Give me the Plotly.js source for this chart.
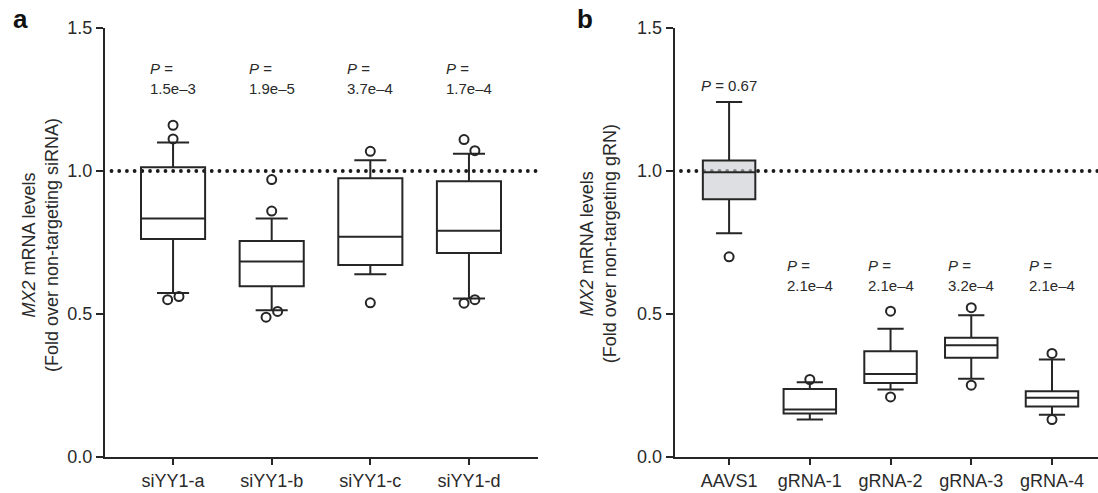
<!DOCTYPE html>
<html>
<head>
<meta charset="utf-8">
<script src="https://cdn.plot.ly/plotly-3.0.1.min.js"></script>
<style>
html,body{margin:0;padding:0;background:#fff;}
#chart{width:1098px;height:493px;}
.shapelayer path{stroke-linecap:round !important;}
</style>
</head>
<body>
<div id="chart"></div>
<script>
// ---------- Panel a data ----------
const catsA = ['siYY1-a', 'siYY1-b', 'siYY1-c', 'siYY1-d'];
const lowA  = [0.573, 0.513, 0.639, 0.554];
const q1A   = [0.762, 0.597, 0.671, 0.713];
const medA  = [0.834, 0.684, 0.770, 0.791];
const q3A   = [1.013, 0.755, 0.975, 0.964];
const highA = [1.100, 0.834, 1.038, 1.060];
const outA  = [[1.160, 1.112, 0.550, 0.561], [0.970, 0.860, 0.489, 0.509], [1.069, 0.539], [1.110, 1.071, 0.538, 0.550]];
const pA    = ['1.5e\u20133', '1.9e\u20135', '3.7e\u20134', '1.7e\u20134'];

// ---------- Panel b data ----------
const catsB = ['AAVS1', 'gRNA-1', 'gRNA-2', 'gRNA-3', 'gRNA-4'];
const lowB  = [0.782, 0.131, 0.236, 0.274, 0.148];
const q1B   = [0.901, 0.152, 0.259, 0.347, 0.177];
const medB  = [0.996, 0.166, 0.290, 0.391, 0.207];
const q3B   = [1.037, 0.238, 0.370, 0.417, 0.230];
const highB = [1.241, 0.261, 0.448, 0.496, 0.341];
const outB  = [[0.700], [0.271], [0.510, 0.210], [0.522, 0.251], [0.362, 0.131]];
const pB    = ['0.67', '2.1e\u20134', '2.1e\u20134', '3.2e\u20134', '2.1e\u20134'];

const refLevel = 1.0;

// ---------- styling / placement (not data) ----------
const INK = '#262626';
const TXT = '#2a2a2a';
const FONT = '"Liberation Sans", Arial, Helvetica, sans-serif';
const jitterA = [[0, 0, -0.055, 0.06], [0, 0, -0.057, 0.06], [0, 0], [-0.05, 0.06, -0.05, 0.06]];
const fillB = ['rgba(200,202,207,0.6)', 'rgba(0,0,0,0)', 'rgba(0,0,0,0)', 'rgba(0,0,0,0)', 'rgba(0,0,0,0)'];
const pLabelYA = [1.323, 1.323, 1.323, 1.323];
const pLabelYB = [1.30, 0.634, 0.634, 0.634, 0.634];

const traces = [];

function addBoxes(cats, low, q1, med, q3, high, xa, ya, fills) {
  cats.forEach((c, i) => {
    traces.push({
      type: 'box', x: [i], q1: [q1[i]], median: [med[i]], q3: [q3[i]],
      lowerfence: [low[i]], upperfence: [high[i]],
      width: 0.65, whiskerwidth: 0.5,
      line: {color: INK, width: 2},
      fillcolor: fills ? fills[i] : 'rgba(0,0,0,0)',
      xaxis: xa, yaxis: ya, hoverinfo: 'skip', showlegend: false, name: c
    });
  });
}
function addOutliers(outs, jit, xa, ya) {
  const xs = [], ys = [];
  outs.forEach((arr, i) => arr.forEach((v, k) => {
    xs.push(i + (jit ? jit[i][k] : 0)); ys.push(v);
  }));
  traces.push({
    type: 'scatter', mode: 'markers', x: xs, y: ys, xaxis: xa, yaxis: ya,
    marker: {symbol: 'circle-open', size: 9, color: INK, line: {width: 2, color: INK}},
    hoverinfo: 'skip', showlegend: false
  });
}

addBoxes(catsA, lowA, q1A, medA, q3A, highA, 'x', 'y', null);
addOutliers(outA, jitterA, 'x', 'y');
addBoxes(catsB, lowB, q1B, medB, q3B, highB, 'x2', 'y2', fillB);
addOutliers(outB, null, 'x2', 'y2');

const W = 1098;
const xCommon = {
  showline: true, linecolor: INK, linewidth: 2,
  ticks: 'outside', ticklen: 6, tickwidth: 2, tickcolor: INK,
  showgrid: false, zeroline: false, fixedrange: true,
  tickfont: {size: 18, color: TXT, family: FONT}
};
const yCommon = {
  range: [0, 1.5], tickvals: [0, 0.5, 1.0, 1.5], tickformat: '.1f',
  showline: true, linecolor: INK, linewidth: 2,
  ticks: 'outside', ticklen: 7, tickwidth: 2, tickcolor: INK,
  showgrid: false, zeroline: false, fixedrange: true,
  tickfont: {size: 18, color: TXT, family: FONT}
};

const annotations = [];
pA.forEach((p, i) => annotations.push({
  xref: 'x', yref: 'y', x: i, y: pLabelYA[i], text: '<i>P</i> =<br>' + p,
  showarrow: false, align: 'left', xanchor: 'center', yanchor: 'middle',
  font: {size: 15, color: TXT, family: FONT}
}));
pB.forEach((p, i) => annotations.push({
  xref: 'x2', yref: 'y2', x: i, y: pLabelYB[i],
  text: i === 0 ? '<i>P</i> = ' + p : '<i>P</i> =<br>' + p,
  showarrow: false, align: 'left', xanchor: 'center', yanchor: 'middle',
  font: {size: 15, color: TXT, family: FONT}
}));
// y-axis titles
annotations.push({
  xref: 'paper', yref: 'paper', x: 40 / W, y: 0.494,
  text: '<i>MX2</i> mRNA levels<br>(Fold over non-targeting siRNA)',
  textangle: -90, showarrow: false, xanchor: 'center', yanchor: 'middle',
  font: {size: 18, color: TXT, family: FONT}
});
annotations.push({
  xref: 'paper', yref: 'paper', x: 598 / W, y: 0.496,
  text: '<i>MX2</i> mRNA levels<br>(Fold over non-targeting gRN)',
  textangle: -90, showarrow: false, xanchor: 'center', yanchor: 'middle',
  font: {size: 18, color: TXT, family: FONT}
});
// panel letters
annotations.push({xref: 'paper', yref: 'paper', x: 20 / W, y: 1.02, text: '<b>a</b>',
  showarrow: false, xanchor: 'center', yanchor: 'middle', font: {size: 26, color: '#111', family: FONT}});
annotations.push({xref: 'paper', yref: 'paper', x: 585 / W, y: 1.02, text: '<b>b</b>',
  showarrow: false, xanchor: 'center', yanchor: 'middle', font: {size: 26, color: '#111', family: FONT}});

const dotLine = {color: '#1a1a1a', width: 3.8, dash: '0.01px,7.7px'};
const layout = {
  width: 1098, height: 493,
  margin: {l: 0, r: 0, t: 28, b: 36},
  paper_bgcolor: '#ffffff', plot_bgcolor: 'rgba(0,0,0,0)',
  showlegend: false, boxmode: 'overlay',
  font: {family: FONT, color: TXT, size: 18},
  xaxis: Object.assign({}, xCommon, {domain: [105 / W, 538 / W], range: [-0.69, 3.7],
    tickvals: catsA.map((c, i) => i), ticktext: catsA, anchor: 'y'}),
  yaxis: Object.assign({}, yCommon, {anchor: 'x'}),
  xaxis2: Object.assign({}, xCommon, {domain: [674.6 / W, 1], range: [-0.675, 4.57],
    tickvals: catsB.map((c, i) => i), ticktext: catsB, anchor: 'y2'}),
  yaxis2: Object.assign({}, yCommon, {anchor: 'x2'}),
  shapes: [
    {type: 'line', xref: 'x domain', yref: 'y', x0: 0.015, x1: 1, y0: refLevel, y1: refLevel, line: dotLine, layer: 'below'},
    {type: 'line', xref: 'x2 domain', yref: 'y2', x0: 0.015, x1: 1, y0: refLevel, y1: refLevel, line: dotLine, layer: 'below'}
  ],
  annotations: annotations
};

Plotly.newPlot('chart', traces, layout, {displayModeBar: false, staticPlot: true});
</script>
</body>
</html>
